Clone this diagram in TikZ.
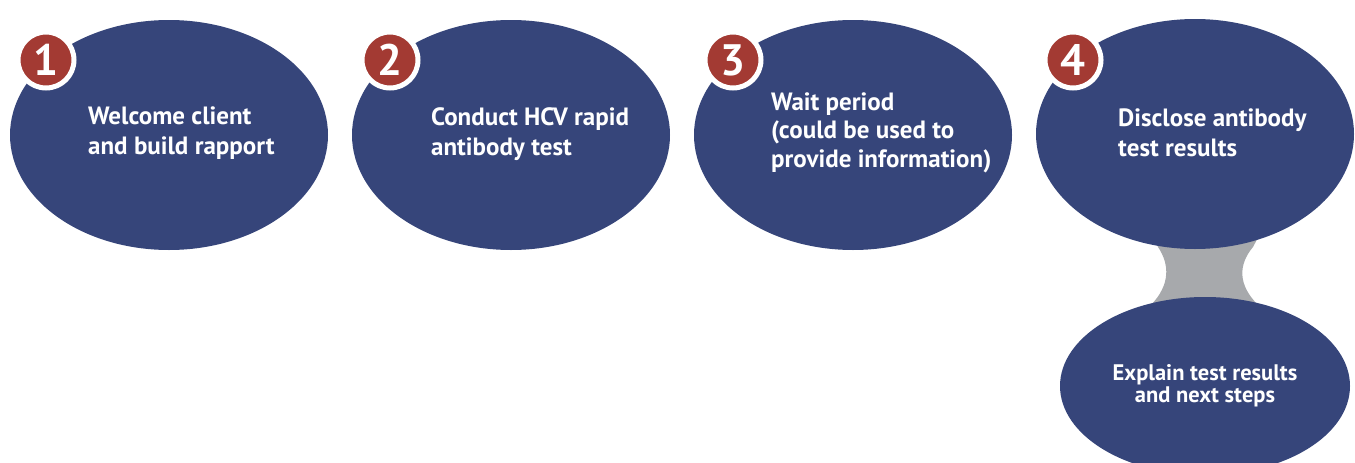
\documentclass[tikz,border=0pt]{standalone}
\usepackage{fontspec}
\setmainfont{PT Sans}
\usetikzlibrary{shapes.geometric}
\definecolor{navy}{HTML}{36457A}
\definecolor{badgered}{HTML}{A33A33}
\definecolor{linkgray}{HTML}{A7A9AC}
\tikzset{
  stepoval/.style={ellipse, fill=navy, inner sep=0pt, minimum width=318pt, minimum height=230pt},
  steptext/.style={text=white, font=\fontsize{25}{30}\selectfont\bfseries, align=left, inner sep=0pt, anchor=base west},
  badge/.style={circle, fill=badgered, draw=white, line width=5pt, minimum size=56pt, inner sep=0pt,
    text=white, font=\fontsize{44}{44}\selectfont\bfseries}
}
\begin{document}
\begin{tikzpicture}[x=1pt,y=-1pt]
\useasboundingbox (0,0) rectangle (1355,463);
% connector between step 4 and its follow-up
\fill[linkgray] (1150,230) -- (1262,230) -- (1253,247)
  .. controls (1238,265) and (1238,285) .. (1258,305) -- (1258,320) -- (1150,320) -- (1151,305)
  .. controls (1170,285) and (1170,265) .. (1158,247) -- cycle;
\node[stepoval] (e1) at (169,135) {};
\node[stepoval] (e2) at (511,135) {};
\node[stepoval] (e3) at (853,135) {};
\node[stepoval] (e4) at (1195,134) {};
\node[stepoval, minimum width=290pt, minimum height=178pt] (e5) at (1205,386) {};
\node[steptext] (t1) at (88,154) {Welcome client\\and build rapport};
\node[steptext] (t2) at (431,155) {Conduct HCV rapid\\antibody test};
\node[steptext, font=\fontsize{25}{28.5}\selectfont\bfseries] (t3) at (771,167) {Wait period\\(could be used to\\provide information)};
\node[steptext] (t4) at (1118,156) {Disclose antibody\\test results};
\node[steptext, anchor=base, align=center, font=\fontsize{22.5}{22}\selectfont\bfseries] (t5) at (1205,402) {Explain test results\\and next steps};
\node[badge] (b1) at (46,60) {1};
\node[badge] (b2) at (390,60) {2};
\node[badge] (b3) at (733,60) {3};
\node[badge] (b4) at (1073,60) {4};
\end{tikzpicture}
\end{document}
